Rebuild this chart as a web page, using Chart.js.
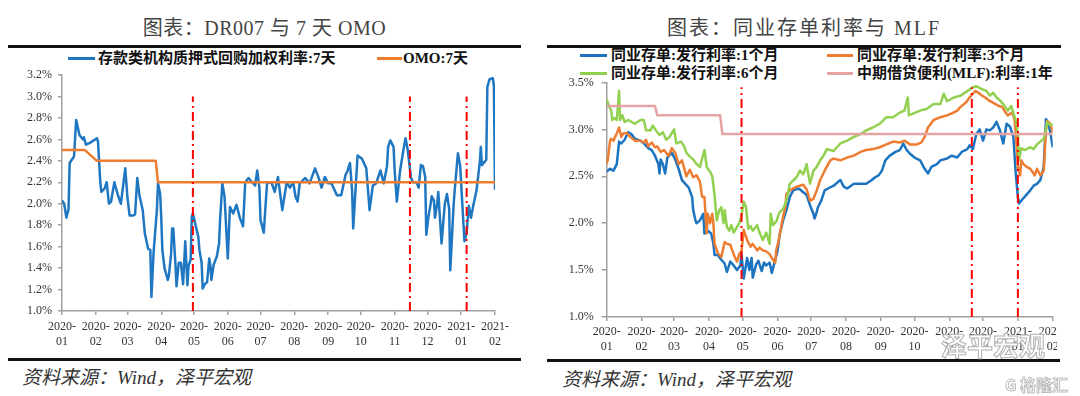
<!DOCTYPE html>
<html><head><meta charset="utf-8">
<script src="https://cdn.jsdelivr.net/npm/chart.js@4.4.1/dist/chart.umd.min.js"></script>
<style>
html,body{margin:0;padding:0;background:#fff;}
#wrap{position:relative;width:1080px;height:396px;overflow:hidden;background:#fff;}
.title{position:absolute;top:15px;height:26px;line-height:26px;text-align:center;font-family:"Liberation Serif","Noto Sans CJK SC",serif;font-size:20px;color:#444;letter-spacing:0.5px;white-space:nowrap;}
.rule{position:absolute;background:#111;}
.lg{position:absolute;font-family:"Liberation Serif","Noto Sans CJK SC",serif;font-weight:bold;font-size:15px;color:#111;white-space:nowrap;line-height:18px;}
.sw{position:absolute;height:3px;}
.src{position:absolute;font-family:"Liberation Serif","Noto Sans CJK SC",serif;font-style:italic;font-size:19px;color:#333;white-space:nowrap;line-height:22px;}
canvas{position:absolute;}
.wm{position:absolute;font-family:"Noto Sans CJK SC",sans-serif;white-space:nowrap;}
</style></head>
<body><div id="wrap">
<div class="title" style="left:8px;width:513px;">图表：DR007 与 7 天 OMO</div>
<div class="title" style="left:547px;width:514px;letter-spacing:2px;">图表：同业存单利率与 MLF</div>
<div class="rule" style="left:8px;top:45px;width:513px;height:3px;"></div>
<div class="rule" style="left:547px;top:45px;width:514px;height:3px;"></div>
<div class="rule" style="left:8px;top:358px;width:513px;height:3px;"></div>
<div class="rule" style="left:547px;top:359px;width:513px;height:3px;"></div>

<div class="sw" style="left:68px;top:57px;width:27px;background:#1f77c2;"></div>
<div class="lg" style="left:98px;top:49px;">存款类机构质押式回购加权利率:7天</div>
<div class="sw" style="left:377px;top:57px;width:25px;background:#ED7D31;"></div>
<div class="lg" style="left:403px;top:49px;">OMO:7天</div>

<div class="sw" style="left:580px;top:54px;width:27px;background:#1c73c0;"></div>
<div class="lg" style="left:611px;top:46px;">同业存单:发行利率:1个月</div>
<div class="sw" style="left:827px;top:54px;width:26px;background:#ED7D31;"></div>
<div class="lg" style="left:857px;top:46px;">同业存单:发行利率:3个月</div>
<div class="sw" style="left:580px;top:72px;width:27px;background:#92D050;"></div>
<div class="lg" style="left:611px;top:64px;">同业存单:发行利率:6个月</div>
<div class="sw" style="left:827px;top:72px;width:26px;background:#E6A3A3;"></div>
<div class="lg" style="left:857px;top:64px;">中期借贷便利(MLF):利率:1年</div>

<canvas id="c1" width="521" height="298" style="left:0px;top:60px;width:521px;height:298px;"></canvas>
<canvas id="c2" width="517" height="298" style="left:540px;top:60px;width:517px;height:298px;"></canvas>

<div class="src" style="left:22px;top:367px;">资料来源：Wind，泽平宏观</div>
<div class="src" style="left:562px;top:369px;">资料来源：Wind，泽平宏观</div>

<div class="wm" style="left:941px;top:326px;font-size:26px;color:#fff;-webkit-text-stroke:1px #b0b0b0;font-weight:bold;">泽平宏观</div>
<div class="wm" style="left:1005px;top:372px;font-size:16px;color:#fff;-webkit-text-stroke:1px #bdbdbd;font-weight:bold;">G 格隆汇</div>
</div>
<script>
// ---------- shared axis data ----------
const xTickDates = ['2020-01-01','2020-02-01','2020-03-01','2020-04-01','2020-05-01','2020-06-01','2020-07-01','2020-08-01','2020-09-01','2020-10-01','2020-11-01','2020-12-01','2021-01-01','2021-02-01'];
const xTickLabels = [['2020-','01'],['2020-','02'],['2020-','03'],['2020-','04'],['2020-','05'],['2020-','06'],['2020-','07'],['2020-','08'],['2020-','09'],['2020-','10'],['2020-','11'],['2020-','12'],['2021-','01'],['2021-','02']];
const leftYTicks = [1.0,1.2,1.4,1.6,1.8,2.0,2.2,2.4,2.6,2.8,3.0,3.2];
const leftYLabels = ['1.0%','1.2%','1.4%','1.6%','1.8%','2.0%','2.2%','2.4%','2.6%','2.8%','3.0%','3.2%'];
const rightYTicks = [1.0,1.5,2.0,2.5,3.0,3.5];
const rightYLabels = ['1.0%','1.5%','2.0%','2.5%','3.0%','3.5%'];

// ---------- left chart: DR007 & OMO (day offset from 2020-01-01, rate %) ----------
const drDays = [0,2,4,6,7,11,13,16,19,20,22,26,32,33,35,36,39,41,43,45,48,51,54,58,60,62,65,67,69,71,74,76,79,81,82,84,87,88,90,91,92,94,97,98,100,101,102,104,105,107,109,111,113,115,116,118,119,120,122,125,126,128,129,131,133,135,136,137,139,142,144,145,147,149,152,154,157,160,163,166,168,171,177,179,181,182,185,188,192,195,198,202,206,209,212,214,216,218,223,227,232,235,238,241,244,247,252,256,260,262,264,266,267,271,275,279,282,285,288,292,295,298,299,301,304,305,307,310,313,315,317,320,322,325,327,329,331,333,334,336,338,339,341,342,344,345,348,351,353,355,356,359,360,363,365,369,371,373,375,377,380,383,384,385,389,390,392,395,396,397];
const drRates = [2.03,2.00,1.87,1.95,2.38,2.44,2.78,2.64,2.60,2.62,2.55,2.57,2.61,2.58,2.22,2.11,2.14,2.20,2.00,2.02,2.20,2.09,2.00,2.33,2.06,1.89,1.89,1.90,2.24,2.08,1.94,1.72,1.58,1.57,1.13,1.55,1.94,2.19,2.09,1.87,1.57,1.40,1.29,1.33,1.53,1.77,1.77,1.44,1.23,1.45,1.45,1.25,1.65,1.24,1.42,1.48,1.88,1.91,1.82,1.69,1.57,1.45,1.21,1.25,1.27,1.49,1.43,1.29,1.43,1.51,1.63,1.86,2.19,2.07,1.49,1.97,1.91,1.99,1.87,1.79,2.20,2.24,2.17,2.31,2.15,1.85,1.73,2.19,2.20,2.11,2.25,1.94,2.20,2.15,2.20,2.07,2.02,2.19,2.24,2.19,2.33,2.25,2.15,2.25,2.19,2.19,2.08,2.08,2.27,2.31,2.38,2.12,1.77,2.45,2.42,2.33,1.94,2.17,2.19,2.31,2.19,2.35,2.53,2.59,2.53,2.31,2.02,2.31,2.50,2.61,2.50,2.24,2.20,2.20,2.15,2.36,2.35,2.25,1.71,1.88,2.00,2.07,2.03,1.87,2.00,2.11,1.63,2.00,2.09,1.95,1.38,1.98,2.12,2.47,2.36,1.65,1.73,1.98,1.87,1.98,2.12,2.38,2.53,2.36,2.41,3.09,3.16,3.17,3.10,2.13];
const omoDays = [0,21,32,86,88,397];
const omoRates = [2.5,2.5,2.4,2.4,2.2,2.2];
const leftMarkDays = [120,319,371];
const leftMarkTop = 3.0;

// ---------- right chart: NCD rates & MLF ----------
const cd1mDays = [0,3,6,9,11,13,16,19,22,25,30,34,37,40,43,46,47,48,50,52,54,58,61,64,67,70,73,76,77,79,80,83,86,87,90,93,95,96,99,102,105,107,110,113,116,119,120,122,125,127,129,130,133,135,138,140,142,145,147,150,152,154,157,160,163,166,171,175,178,181,184,185,187,188,191,194,197,202,208,211,214,220,226,231,236,239,242,245,248,252,257,261,264,267,270,274,279,283,286,289,294,297,303,307,312,316,321,323,326,329,332,335,338,341,344,347,350,353,356,359,362,364,366,367,369,372,377,380,383,386,389,391,393,395,397];
const cd1mRates = [2.55,2.58,2.56,2.63,2.87,2.85,2.89,2.97,2.95,2.90,2.88,2.84,2.80,2.78,2.72,2.63,2.53,2.68,2.63,2.53,2.70,2.75,2.68,2.58,2.46,2.42,2.38,2.28,2.14,2.03,2.00,2.03,2.10,1.89,1.92,1.89,1.78,1.66,1.66,1.61,1.57,1.48,1.59,1.55,1.50,1.55,1.67,1.41,1.63,1.50,1.63,1.42,1.56,1.60,1.49,1.58,1.55,1.58,1.47,1.61,1.70,1.88,2.03,2.14,2.28,2.35,2.37,2.33,2.30,2.19,2.10,2.05,2.12,2.17,2.24,2.35,2.37,2.40,2.46,2.39,2.37,2.42,2.42,2.42,2.46,2.49,2.51,2.56,2.67,2.72,2.76,2.78,2.85,2.78,2.74,2.70,2.67,2.58,2.53,2.60,2.63,2.67,2.69,2.72,2.70,2.76,2.79,2.83,2.79,2.95,3.00,2.88,3.00,2.99,3.02,3.08,2.99,2.85,3.06,3.03,2.92,2.55,2.28,2.21,2.24,2.28,2.35,2.40,2.42,2.46,2.60,3.11,3.07,2.96,2.81];
const cd3mDays = [0,1,3,4,6,9,11,13,15,18,21,25,30,33,35,37,40,43,45,48,51,55,58,61,64,67,71,74,77,80,83,85,87,89,90,92,94,95,96,99,102,105,107,110,113,116,118,120,122,125,128,130,134,136,139,142,145,148,150,151,153,154,157,159,160,163,169,175,178,181,184,187,190,194,199,202,208,214,220,226,231,237,243,249,255,261,265,270,276,280,283,286,291,297,303,309,312,315,320,323,328,331,334,337,340,343,346,349,352,355,357,361,363,365,366,368,369,371,374,377,380,381,383,386,389,391,392,394,396,397];
const cd3mRates = [2.63,2.68,2.88,2.90,2.88,2.96,3.02,2.92,2.96,2.96,2.92,2.88,2.88,2.86,2.89,2.82,2.86,2.81,2.82,2.76,2.78,2.72,2.80,2.75,2.63,2.67,2.50,2.57,2.49,2.51,2.44,2.28,2.28,1.89,2.10,2.00,2.10,1.99,1.78,1.68,1.64,1.80,1.78,1.77,1.67,1.59,1.67,1.70,1.93,1.82,1.75,1.78,1.71,1.74,1.71,1.70,1.67,1.61,1.58,1.72,1.81,1.88,2.07,2.17,2.31,2.35,2.39,2.41,2.36,2.24,2.26,2.35,2.46,2.56,2.67,2.69,2.67,2.70,2.72,2.76,2.78,2.79,2.81,2.84,2.87,2.86,2.88,2.84,2.84,2.86,2.92,3.02,3.10,3.13,3.15,3.18,3.20,3.24,3.29,3.34,3.41,3.39,3.36,3.34,3.31,3.29,3.27,3.25,3.24,3.18,3.15,3.18,3.11,2.81,2.60,2.51,2.67,2.63,2.60,2.58,2.53,2.51,2.58,2.51,2.56,2.99,3.09,3.07,3.02,2.97];
const cd6mDays = [0,1,4,5,7,9,11,12,14,16,19,25,30,33,35,39,41,45,47,50,53,56,60,62,66,69,71,74,77,80,83,87,89,92,94,96,98,100,102,104,105,107,109,111,113,116,118,120,122,124,126,128,130,134,136,139,142,145,146,148,151,154,157,160,163,169,172,175,178,179,181,184,187,190,193,196,202,208,214,220,226,231,237,243,249,255,261,265,268,269,273,279,285,291,297,300,303,309,315,320,326,329,334,338,341,344,347,350,353,357,360,364,366,367,369,372,377,380,383,386,389,391,392,395,397];
const cd6mRates = [3.32,3.28,3.20,3.10,3.12,3.10,3.41,3.10,3.15,3.08,3.10,3.06,3.10,3.10,2.99,2.99,3.04,2.97,2.94,2.97,2.89,2.92,3.00,2.85,2.87,2.82,2.75,2.71,2.68,2.63,2.60,2.78,2.60,2.55,2.50,2.30,2.03,2.13,2.17,2.00,2.14,1.96,1.92,1.98,1.90,1.96,2.00,2.08,2.23,2.17,1.94,1.97,1.92,1.98,1.90,1.82,1.90,1.78,2.10,1.98,2.02,2.12,2.15,2.24,2.42,2.49,2.56,2.52,2.63,2.55,2.42,2.56,2.60,2.67,2.72,2.79,2.77,2.85,2.88,2.92,2.95,2.99,3.02,3.06,3.13,3.13,3.18,3.20,3.34,3.15,3.17,3.20,3.22,3.27,3.27,3.38,3.30,3.34,3.36,3.40,3.45,3.46,3.43,3.41,3.36,3.39,3.34,3.31,3.27,3.20,3.25,3.10,2.96,2.67,2.80,2.78,2.81,2.79,2.84,2.87,2.90,3.00,3.08,3.04,3.06];
const mlfDays = [0,43,45,101,103,397];
const mlfRates = [3.25,3.25,3.15,3.15,2.95,2.95];
const rightMarkDays = [120,325,366];
const rightMarkTop = 3.45;

// ---------- build ----------
const base = Date.parse(xTickDates[0]);
const tickDays = xTickDates.map(d => Math.round((Date.parse(d) - base) / 86400000));
const xMax = tickDays[tickDays.length - 1];
const pts = (ds, vs) => ds.map((d, i) => ({x: Math.min(d, xMax), y: vs[i]}));
const axisColor = '#a0a0a0';
const tickFont = {family: 'Liberation Serif', size: 12, lineHeight: 1.25};

function line(data, color, width, order) {
  return {data, borderColor: color, borderWidth: width, pointRadius: 0, tension: 0, fill: false, order, borderJoinStyle: 'round'};
}
function marks(days, bottom, top) {
  return days.map(d => ({data: [{x: d, y: bottom}, {x: d, y: top}], borderColor: '#ff0000', borderWidth: 2, borderDash: [9, 4, 2, 4], pointRadius: 0, order: 0, fill: false}));
}
function xAxis(h, tl, pad) {
  return {
    type: 'linear', min: 0, max: xMax,
    afterBuildTicks: s => { s.ticks = tickDays.map(v => ({value: v})); },
    afterFit: s => { s.height = h; s.paddingLeft = 0; s.paddingRight = 0; },
    ticks: {autoSkip: false, maxRotation: 0, minRotation: 0, padding: pad, color: '#333', font: tickFont, callback: (v, i) => xTickLabels[i]},
    grid: {drawOnChartArea: false, drawTicks: true, tickLength: tl, color: axisColor, lineWidth: 1.5},
    border: {display: true, color: axisColor, width: 1.5}
  };
}
function yAxis(vals, labels, w, tl, pad) {
  return {
    type: 'linear', min: vals[0], max: vals[vals.length - 1],
    afterBuildTicks: s => { s.ticks = vals.map(v => ({value: v})); },
    afterFit: s => { s.width = w; s.paddingTop = 0; s.paddingBottom = 0; },
    ticks: {padding: pad, color: '#333', font: tickFont, callback: (v, i) => labels[i]},
    grid: {drawOnChartArea: false, drawTicks: true, tickLength: tl, color: axisColor, lineWidth: 1.5},
    border: {display: true, color: axisColor, width: 1.5}
  };
}
const common = {
  responsive: false, animation: false, devicePixelRatio: 1, events: [],
  plugins: {legend: {display: false}, tooltip: {enabled: false}}
};

new Chart(document.getElementById('c1'), {
  type: 'line',
  data: {datasets: [
    line(pts(drDays, drRates), '#1f77c2', 2.5, 3),
    line(pts(omoDays, omoRates), '#ED7D31', 2.5, 2),
    ...marks(leftMarkDays, leftYTicks[0], leftMarkTop)
  ]},
  options: Object.assign({}, common, {
    layout: {padding: {left: 0, right: 26, top: 15, bottom: 3}},
    scales: {x: xAxis(44, 4, 4), y: yAxis(leftYTicks, leftYLabels, 62, 4, 6)}
  })
});

new Chart(document.getElementById('c2'), {
  type: 'line',
  data: {datasets: [
    line(pts(cd1mDays, cd1mRates), '#1c73c0', 2.5, 5),
    line(pts(cd3mDays, cd3mRates), '#ED7D31', 2.5, 4),
    line(pts(cd6mDays, cd6mRates), '#92D050', 2.5, 3),
    line(pts(mlfDays, mlfRates), '#E6A3A3', 2.5, 2),
    ...marks(rightMarkDays, rightYTicks[0], rightMarkTop)
  ]},
  options: Object.assign({}, common, {
    layout: {padding: {left: 0, right: 4.3, top: 22.5, bottom: 3}},
    scales: {x: xAxis(38, 4, 3), y: yAxis(rightYTicks, rightYLabels, 66.7, 5, 8)}
  })
});
</script>
</body></html>
